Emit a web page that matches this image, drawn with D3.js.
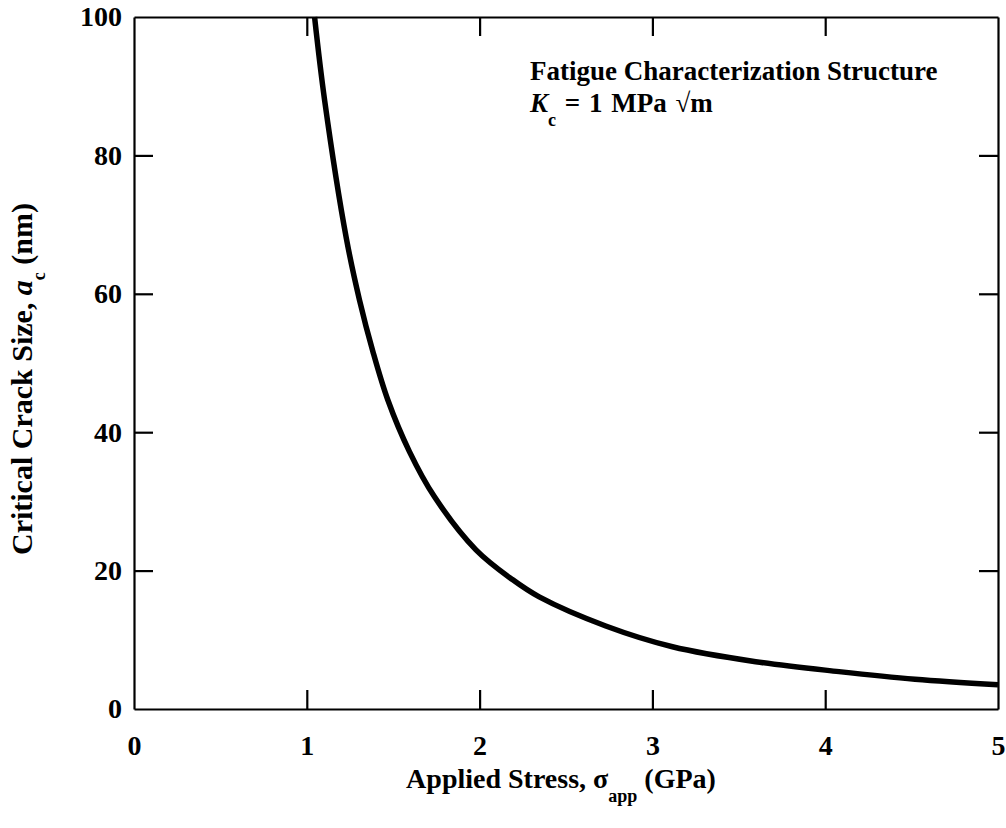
<!DOCTYPE html>
<html>
<head>
<meta charset="utf-8">
<script src="https://cdn.jsdelivr.net/npm/d3@7"></script>
<style>
  body { margin: 0; background: #fff; }
  svg text { font-family: "Liberation Serif", "Times New Roman", serif; font-weight: bold; fill: #000; }
</style>
</head>
<body>
<svg id="chart" width="1006" height="828"></svg>
<script>
// stress (GPa) vs critical crack size (nm)
const stress = [1.045, 1.103, 1.229, 1.305, 1.382, 1.469, 1.594, 1.738, 1.979, 2.19, 2.345, 2.73, 3.116, 3.598, 4.08, 4.52, 5.0]
const crack = [100, 88.0, 68.0, 59.1, 51.7, 44.65, 37.2, 30.7, 23.0, 18.7, 16.2, 12.0, 9.0, 6.84, 5.4, 4.3, 3.5]
const xTicks = [0, 1, 2, 3, 4, 5]
const yTicks = [0, 20, 40, 60, 80, 100]

const svg = d3.select('#chart')
const L = 134, R = 998, T = 17, B = 709
const fsTick = 28, fsTitle = 28, fsNote = 27, fsSub = 18

const x = d3.scaleLinear().domain([0, 5]).range([L, R])
const y = d3.scaleLinear().domain([0, 100]).range([B, T])

const tick = 19

function style (g) {
  g.selectAll('path.domain').attr('stroke-width', 2.2)
  g.selectAll('line').attr('stroke-width', 2.2)
  g.selectAll('text').style('font-size', fsTick + 'px')
}

svg.append('g').attr('transform', `translate(0,${B})`)
  .call(d3.axisBottom(x).tickValues(xTicks).tickFormat(d3.format('d')).tickSize(-tick).tickSizeOuter(0).tickPadding(26))
  .call(style)
svg.append('g').attr('transform', `translate(0,${T})`)
  .call(d3.axisTop(x).tickValues(xTicks).tickFormat('').tickSize(-tick).tickSizeOuter(0))
  .call(style)
svg.append('g').attr('transform', `translate(${L},0)`)
  .call(d3.axisLeft(y).tickValues(yTicks).tickFormat(d3.format('d')).tickSize(-tick).tickSizeOuter(0).tickPadding(12))
  .call(style)
svg.append('g').attr('transform', `translate(${R},0)`)
  .call(d3.axisRight(y).tickValues(yTicks).tickFormat('').tickSize(-tick).tickSizeOuter(0))
  .call(style)

svg.selectAll('.tick line').filter(d => d === 0 || d === 5 || d === 100).remove()

const line = d3.line()
  .x((d, i) => x(stress[i]))
  .y(d => y(d))
  .curve(d3.curveCatmullRom)

svg.append('path')
  .datum(crack)
  .attr('d', line)
  .attr('fill', 'none')
  .attr('stroke', '#000')
  .attr('stroke-width', 5.5)

// axis titles
const xt = svg.append('text')
  .attr('x', 561).attr('y', 788)
  .attr('text-anchor', 'middle')
  .style('font-size', fsTitle + 'px')
xt.append('tspan').text('Applied Stress, σ')
xt.append('tspan').attr('dy', 14).style('font-size', fsSub + 'px').text('app')
xt.append('tspan').attr('dy', -14).text(' (GPa)')

const yt = svg.append('text')
  .attr('transform', `translate(32,${(T + B) / 2 + 16}) rotate(-90)`)
  .attr('text-anchor', 'middle')
  .style('font-size', '30px')
yt.append('tspan').text('Critical Crack Size, ')
yt.append('tspan').style('font-style', 'italic').text('a')
yt.append('tspan').attr('dy', 13).style('font-size', fsSub + 'px').text('c')
yt.append('tspan').attr('dy', -13).text(' (nm)')

// annotation
svg.append('text')
  .attr('x', 530).attr('y', 80)
  .style('font-size', fsNote + 'px')
  .text('Fatigue Characterization Structure')
const k = svg.append('text')
  .attr('x', 530).attr('y', 112)
  .style('font-size', fsNote + 'px')
k.append('tspan').style('font-style', 'italic').text('K')
k.append('tspan').attr('dy', 14).style('font-size', fsSub + 'px').text('c')
k.append('tspan').attr('dy', -14).attr('word-spacing', 2).text(' = 1 MPa √m')
</script>
</body>
</html>
